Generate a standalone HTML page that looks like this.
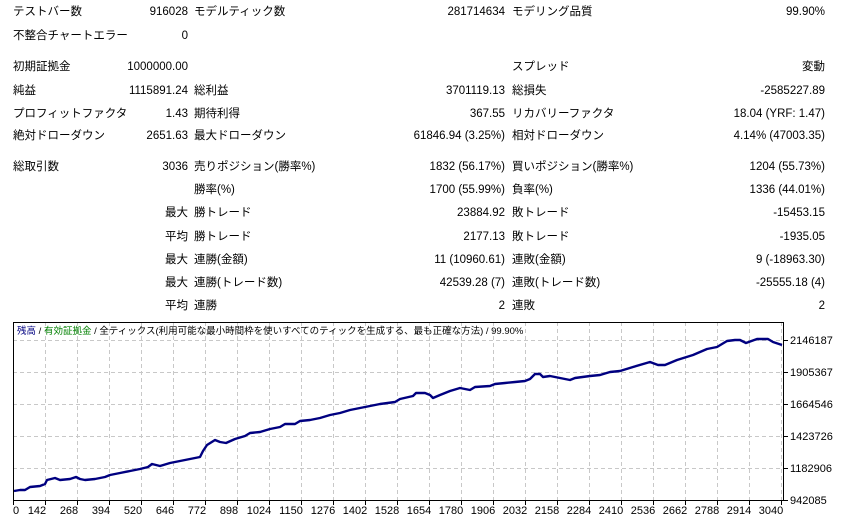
<!DOCTYPE html>
<html><head><meta charset="utf-8"><style>
body{margin:0;width:842px;height:519px;background:#fff;position:relative;overflow:hidden;font-family:"Liberation Sans","Noto Sans CJK JP",sans-serif;font-size:11.5px;color:#000}
.t{position:absolute;height:14px;line-height:14px;white-space:nowrap}
.r{text-align:right}
</style></head><body>
<div class="t" style="left:13px;top:5px">テストバー数</div><div class="t r" style="left:100px;width:88px;top:5px">916028</div>
<div class="t" style="left:194px;top:5px">モデルティック数</div><div class="t r" style="left:350px;width:155px;top:5px">281714634</div>
<div class="t" style="left:512px;top:5px">モデリング品質</div><div class="t r" style="left:650px;width:175px;top:5px">99.90%</div>
<div class="t" style="left:13px;top:29px">不整合チャートエラー</div><div class="t r" style="left:100px;width:88px;top:29px">0</div>
<div class="t" style="left:13px;top:60px">初期証拠金</div><div class="t r" style="left:100px;width:88px;top:60px">1000000.00</div>
<div class="t" style="left:512px;top:60px">スプレッド</div><div class="t r" style="left:650px;width:175px;top:60px">変動</div>
<div class="t" style="left:13px;top:84px">純益</div><div class="t r" style="left:80px;width:108px;top:84px">1115891.24</div>
<div class="t" style="left:194px;top:84px">総利益</div><div class="t r" style="left:350px;width:155px;top:84px">3701119.13</div>
<div class="t" style="left:512px;top:84px">総損失</div><div class="t r" style="left:650px;width:175px;top:84px">-2585227.89</div>
<div class="t" style="left:13px;top:107px">プロフィットファクタ</div><div class="t r" style="left:100px;width:88px;top:107px">1.43</div>
<div class="t" style="left:194px;top:107px">期待利得</div><div class="t r" style="left:350px;width:155px;top:107px">367.55</div>
<div class="t" style="left:512px;top:107px">リカバリーファクタ</div><div class="t r" style="left:650px;width:175px;top:107px">18.04 (YRF: 1.47)</div>
<div class="t" style="left:13px;top:129px">絶対ドローダウン</div><div class="t r" style="left:100px;width:88px;top:129px">2651.63</div>
<div class="t" style="left:194px;top:129px">最大ドローダウン</div><div class="t r" style="left:350px;width:155px;top:129px">61846.94 (3.25%)</div>
<div class="t" style="left:512px;top:129px">相対ドローダウン</div><div class="t r" style="left:650px;width:175px;top:129px">4.14% (47003.35)</div>

<div class="t" style="left:13px;top:160px">総取引数</div><div class="t r" style="left:100px;width:88px;top:160px">3036</div>
<div class="t" style="left:194px;top:160px">売りポジション(勝率%)</div><div class="t r" style="left:350px;width:155px;top:160px">1832 (56.17%)</div>
<div class="t" style="left:512px;top:160px">買いポジション(勝率%)</div><div class="t r" style="left:650px;width:175px;top:160px">1204 (55.73%)</div>
<div class="t" style="left:194px;top:183px">勝率(%)</div><div class="t r" style="left:350px;width:155px;top:183px">1700 (55.99%)</div>
<div class="t" style="left:512px;top:183px">負率(%)</div><div class="t r" style="left:650px;width:175px;top:183px">1336 (44.01%)</div>
<div class="t r" style="left:100px;width:88px;top:206px">最大</div><div class="t" style="left:194px;top:206px">勝トレード</div><div class="t r" style="left:350px;width:155px;top:206px">23884.92</div>
<div class="t" style="left:512px;top:206px">敗トレード</div><div class="t r" style="left:650px;width:175px;top:206px">-15453.15</div>
<div class="t r" style="left:100px;width:88px;top:230px">平均</div><div class="t" style="left:194px;top:230px">勝トレード</div><div class="t r" style="left:350px;width:155px;top:230px">2177.13</div>
<div class="t" style="left:512px;top:230px">敗トレード</div><div class="t r" style="left:650px;width:175px;top:230px">-1935.05</div>
<div class="t r" style="left:100px;width:88px;top:253px">最大</div><div class="t" style="left:194px;top:253px">連勝(金額)</div><div class="t r" style="left:350px;width:155px;top:253px">11 (10960.61)</div>
<div class="t" style="left:512px;top:253px">連敗(金額)</div><div class="t r" style="left:650px;width:175px;top:253px">9 (-18963.30)</div>
<div class="t r" style="left:100px;width:88px;top:276px">最大</div><div class="t" style="left:194px;top:276px">連勝(トレード数)</div><div class="t r" style="left:350px;width:155px;top:276px">42539.28 (7)</div>
<div class="t" style="left:512px;top:276px">連敗(トレード数)</div><div class="t r" style="left:650px;width:175px;top:276px">-25555.18 (4)</div>
<div class="t r" style="left:100px;width:88px;top:299px">平均</div><div class="t" style="left:194px;top:299px">連勝</div><div class="t r" style="left:350px;width:155px;top:299px">2</div>
<div class="t" style="left:512px;top:299px">連敗</div><div class="t r" style="left:650px;width:175px;top:299px">2</div>

<svg style="position:absolute;left:0;top:0" width="842" height="519" xmlns="http://www.w3.org/2000/svg">
<g stroke="#c8c8c8" stroke-dasharray="4,3" stroke-width="1">
<path d="M45.5 322V501M77.5 322V501M109.5 322V501M141.5 322V501M173.5 322V501M205.5 322V501M237.5 322V501M269.5 322V501M301.5 322V501M333.5 322V501M365.5 322V501M397.5 322V501M429.5 322V501M461.5 322V501M493.5 322V501M525.5 322V501M557.5 322V501M589.5 322V501M621.5 322V501M653.5 322V501M685.5 322V501M717.5 322V501M749.5 322V501M781.5 322V501"/>
<path d="M13 340.5H784M13 372.5H784M13 404.5H784M13 436.5H784M13 468.5H784"/>
</g>
<rect x="13.5" y="322.5" width="770" height="178" fill="none" stroke="#000" stroke-width="1"/>
<g stroke="#000"><path d="M784 340.5h4M784 372.5h4M784 404.5h4M784 436.5h4M784 468.5h4M784 500.5h4"/>
<path d="M13.5 501v4M45.5 501v4M77.5 501v4M109.5 501v4M141.5 501v4M173.5 501v4M205.5 501v4M237.5 501v4M269.5 501v4M301.5 501v4M333.5 501v4M365.5 501v4M397.5 501v4M429.5 501v4M461.5 501v4M493.5 501v4M525.5 501v4M557.5 501v4M589.5 501v4M621.5 501v4M653.5 501v4M685.5 501v4M717.5 501v4M749.5 501v4M781.5 501v4"/></g>
<polyline fill="none" stroke="#000080" stroke-width="2.4" stroke-linejoin="round" points="14,491 20,490 25,490 30,487 40,486 45,484 47,480 55,478 60,480 70,479 76,477 80,479 85,480 95,479 105,477 110,475 120,473 130,471 140,469 148,467 152,464 160,466 170,463 180,461 190,459 195,458 200,457 203,451 207,445 215,440 220,442 226,443 235,439 245,436 250,433 260,432 270,429 280,427 285,424 295,424 300,421 310,420 320,418 330,415 340,413 350,410 360,408 370,406 380,404 395,402 400,399 413,396 416,393 425,393 430,395 433,398 440,395 450,391 460,388 465,389 470,390 475,387 490,386 495,384 505,383 515,382 525,381 530,379 535,374 540,374 543,377 550,376 555,377 565,379 570,380 575,378 590,376 600,375 610,372 620,371 633,367 650,362 658,365 665,365 677,360 693,355 707,349 717,347 727,341 735,340 740,340 746,343 757,339 768,339 773,342 782,345"/>
<g font-family="Liberation Sans, Noto Sans CJK JP, sans-serif" font-size="11" fill="#000">
<text x="790" y="344">2146187</text><text x="790" y="376">1905367</text><text x="790" y="408">1664546</text><text x="790" y="440">1423726</text><text x="790" y="472">1182906</text><text x="790" y="504">942085</text>
<g text-anchor="middle">
<text x="16" y="514">0</text><text x="37" y="514">142</text><text x="69" y="514">268</text><text x="101" y="514">394</text><text x="133" y="514">520</text><text x="165" y="514">646</text><text x="197" y="514">772</text><text x="229" y="514">898</text><text x="259" y="514">1024</text><text x="291" y="514">1150</text><text x="323" y="514">1276</text><text x="355" y="514">1402</text><text x="387" y="514">1528</text><text x="419" y="514">1654</text><text x="451" y="514">1780</text><text x="483" y="514">1906</text><text x="515" y="514">2032</text><text x="547" y="514">2158</text><text x="579" y="514">2284</text><text x="611" y="514">2410</text><text x="643" y="514">2536</text><text x="675" y="514">2662</text><text x="707" y="514">2788</text><text x="739" y="514">2914</text><text x="771" y="514">3040</text>
</g>
<text x="17" y="334" font-size="9.5"><tspan fill="#000080">残高</tspan> / <tspan fill="#008000">有効証拠金</tspan> / 全ティックス(利用可能な最小時間枠を使いすべてのティックを生成する、最も正確な方法) / 99.90%</text>
</g>
</svg>
</body></html>
